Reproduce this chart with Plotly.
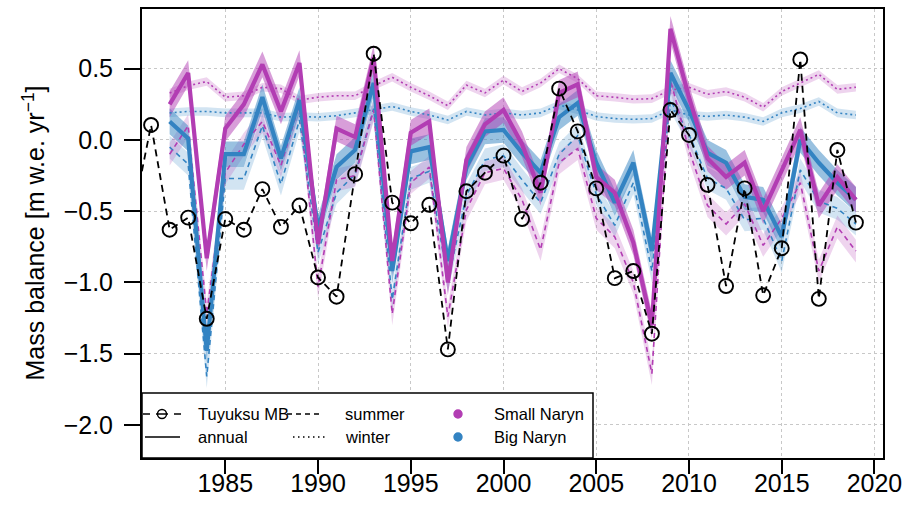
import plotly.graph_objects as go

# ---------------------------------------------------------------------------
# Data
# ---------------------------------------------------------------------------
model_years = list(range(1982, 2020))
tuyuksu_years = list(range(1980, 2020))

# Observed mass balance, Tuyuksu glacier (m w.e. / yr)
tuyuksu_mb = [-0.55, 0.105, -0.63, -0.545, -1.255, -0.555, -0.63, -0.345, -0.61, -0.46,
              -0.965, -1.10, -0.24, 0.605, -0.44, -0.585, -0.455, -1.47, -0.36, -0.23,
              -0.11, -0.555, -0.30, 0.36, 0.06, -0.34, -0.97, -0.92, -1.36, 0.21,
              0.035, -0.315, -1.025, -0.34, -1.09, -0.76, 0.565, -1.115, -0.07, -0.58]

# Modelled mass balance, Small Naryn
small_annual = [0.25, 0.47, -0.83, 0.08, 0.25, 0.53, 0.20, 0.54, -0.73, 0.08,
                0.02, 0.58, -0.85, 0.05, 0.13, -1.00, -0.14, 0.11, 0.21, -0.03,
                -0.37, 0.33, 0.39, -0.26, -0.37, -0.72, -1.30, 0.78, 0.30, -0.13,
                -0.26, -0.16, -0.50, -0.21, 0.07, -0.46, -0.26, -0.42]
small_summer = [-0.10, 0.10, -1.22, -0.23, -0.03, 0.13, -0.18, 0.25, -1.03, -0.28,
                -0.25, 0.21, -1.22, -0.30, -0.19, -1.24, -0.49, -0.23, -0.20, -0.42,
                -0.77, -0.16, -0.06, -0.55, -0.68, -1.00, -1.64, 0.42, -0.07, -0.46,
                -0.59, -0.45, -0.74, -0.55, -0.30, -0.92, -0.61, -0.78]
small_winter = [0.33, 0.38, 0.41, 0.30, 0.31, 0.37, 0.36, 0.28, 0.30, 0.31,
                0.31, 0.38, 0.44, 0.37, 0.31, 0.24, 0.385, 0.33, 0.42, 0.34,
                0.40, 0.50, 0.43, 0.31, 0.30, 0.285, 0.29, 0.35, 0.37, 0.32,
                0.34, 0.30, 0.23, 0.34, 0.40, 0.46, 0.355, 0.37]

# Modelled mass balance, Big Naryn
big_annual = [0.13, 0.01, -1.48, -0.10, -0.10, 0.30, -0.13, 0.28, -0.62, -0.19,
              -0.07, 0.40, -0.92, -0.08, -0.05, -0.85, -0.19, 0.06, 0.07, -0.09,
              -0.23, 0.16, 0.26, -0.16, -0.44, -0.16, -0.78, 0.47, 0.21, -0.09,
              -0.16, -0.40, -0.42, -0.68, 0.00, -0.16, -0.30, -0.42]
big_summer = [-0.05, -0.17, -1.66, -0.27, -0.27, 0.10, -0.31, 0.14, -0.79, -0.37,
              -0.24, 0.22, -1.12, -0.27, -0.22, -0.99, -0.39, -0.14, -0.11, -0.28,
              -0.44, -0.10, 0.03, -0.38, -0.60, -0.30, -0.92, 0.28, 0.04, -0.27,
              -0.34, -0.56, -0.55, -0.85, -0.21, -0.43, -0.48, -0.59]
big_winter = [0.19, 0.20, 0.20, 0.19, 0.19, 0.19, 0.16, 0.165, 0.16, 0.17,
              0.19, 0.21, 0.235, 0.20, 0.175, 0.14, 0.20, 0.175, 0.19, 0.175,
              0.19, 0.245, 0.21, 0.165, 0.15, 0.145, 0.15, 0.21, 0.175, 0.165,
              0.175, 0.16, 0.13, 0.19, 0.22, 0.27, 0.19, 0.175]

# Half-width of the shaded uncertainty ranges
annual_spread = 0.09
summer_spread = 0.08
winter_spread = 0.03

# ---------------------------------------------------------------------------
# Styling
# ---------------------------------------------------------------------------
SMALL_RGB = (178, 61, 179)
BIG_RGB = (51, 131, 194)
FONT = "Liberation Sans, Arial, Helvetica, sans-serif"


def rgba(rgb, a):
    return "rgba(%d,%d,%d,%.2f)" % (rgb[0], rgb[1], rgb[2], a)


def band(x, y, half, rgb, alpha):
    upper = [v + half for v in y]
    lower = [v - half for v in y]
    return go.Scatter(
        x=x + x[::-1], y=upper + lower[::-1], mode="lines", fill="toself",
        fillcolor=rgba(rgb, alpha), line=dict(width=0), hoverinfo="skip",
        showlegend=False,
    )


def line(x, y, rgb, width, dash):
    return go.Scatter(
        x=x, y=y, mode="lines", line=dict(color=rgba(rgb, 1), width=width, dash=dash),
        showlegend=False,
    )


fig = go.Figure()

# shaded ranges
for rgb, w, s in ((BIG_RGB, big_winter, big_summer), (SMALL_RGB, small_winter, small_summer)):
    fig.add_trace(band(model_years, w, winter_spread, rgb, 0.22))
    fig.add_trace(band(model_years, s, summer_spread, rgb, 0.22))
fig.add_trace(band(model_years, big_annual, annual_spread, BIG_RGB, 0.5))
fig.add_trace(band(model_years, small_annual, annual_spread, SMALL_RGB, 0.5))

# seasonal lines
for rgb, w, s in ((BIG_RGB, big_winter, big_summer), (SMALL_RGB, small_winter, small_summer)):
    fig.add_trace(line(model_years, w, rgb, 1.6, "2px,3px"))
    fig.add_trace(line(model_years, s, rgb, 1.6, "5px,4px"))

# annual lines
fig.add_trace(line(model_years, big_annual, BIG_RGB, 4.2, "solid"))
fig.add_trace(line(model_years, small_annual, SMALL_RGB, 4.2, "solid"))

# observed Tuyuksu series
fig.add_trace(go.Scatter(
    x=tuyuksu_years, y=tuyuksu_mb, mode="lines+markers",
    line=dict(color="black", width=1.8, dash="7px,5px"),
    marker=dict(symbol="circle-open", size=14, color="black", line=dict(width=1.9, color="black")),
    showlegend=False,
))

# ---------------------------------------------------------------------------
# Legend (drawn in the lower-left corner of the plot box)
# ---------------------------------------------------------------------------
PL, PR, PT, PB = 142, 883, 9, 458


def px(x):
    return (x - PL) / (PR - PL)


def py(y):
    return (PB - y) / (PB - PT)


shapes = [dict(type="rect", xref="paper", yref="paper", x0=0, x1=px(593), y0=0, y1=py(393),
               line=dict(color="black", width=1.5), fillcolor="white", layer="above")]
row1, row2 = 414, 437


def hseg(x0, x1, y, dash, width=1.5, color="black"):
    return dict(type="line", xref="paper", yref="paper", x0=px(x0), x1=px(x1), y0=py(y), y1=py(y),
                line=dict(color=color, width=width, dash=dash))


def dot(xc, yc, r, color, fill):
    return dict(type="circle", xref="paper", yref="paper",
                x0=px(xc - r), x1=px(xc + r), y0=py(yc + r), y1=py(yc - r),
                line=dict(color=color, width=1.4), fillcolor=fill)


shapes += [
    hseg(143, 150, row1, "solid"),
    hseg(156, 168, row1, "solid"),
    hseg(174, 181, row1, "solid"),
    dot(162, row1, 4.5, "black", "rgba(0,0,0,0)"),
    hseg(145, 180, row2, "solid"),
    hseg(287, 322, row1, "5px,4px"),
    hseg(293, 327, row2, "1.5px,3.5px"),
    dot(458, row1, 4, rgba(SMALL_RGB, 1), rgba(SMALL_RGB, 1)),
    dot(458, row2, 4, rgba(BIG_RGB, 1), rgba(BIG_RGB, 1)),
]

legend_font = dict(family=FONT, size=16.5, color="black")
annotations = []
for xpos, ypos, txt in ((196, row1, "Tuyuksu MB"), (196, row2, "annual"),
                        (343, row1, "summer"), (343, row2, "winter"),
                        (492, row1, "Small Naryn"), (492, row2, "Big Naryn")):
    annotations.append(dict(xref="paper", yref="paper", x=px(xpos), y=py(ypos), text=txt,
                            showarrow=False, xanchor="left", yanchor="middle", font=legend_font))

annotations.append(dict(
    xref="paper", yref="paper", x=px(33), y=0.5, textangle=-90,
    text="Mass balance [m w.e. yr<sup>\u22121</sup>]", showarrow=False,
    xanchor="center", yanchor="middle", font=dict(family=FONT, size=25, color="black"),
))

axis_common = dict(
    showline=True, mirror=True, linecolor="black", linewidth=2,
    ticks="outside", tickcolor="black", tickwidth=1.5,
    showgrid=True, gridcolor="#c8c8c8", griddash="dot", gridwidth=1,
    zeroline=False, tickfont=dict(family=FONT, size=25, color="black"),
)

fig.update_layout(
    width=906, height=518,
    margin=dict(l=PL, r=906 - PR, t=PT, b=518 - PB, autoexpand=False),
    paper_bgcolor="white", plot_bgcolor="white",
    xaxis=dict(range=[1980.51, 2020.46], tickmode="linear", tick0=1985, dtick=5,
               ticklen=14, ticklabelstandoff=-12, **axis_common),
    yaxis=dict(range=[-2.232, 0.919], tickmode="linear", tick0=0, dtick=0.5,
               tickformat=".1f", ticklen=16, ticklabelstandoff=6, **axis_common),
    shapes=shapes, annotations=annotations, showlegend=False,
    font=dict(family=FONT),
)

fig.write_html("out.html")
